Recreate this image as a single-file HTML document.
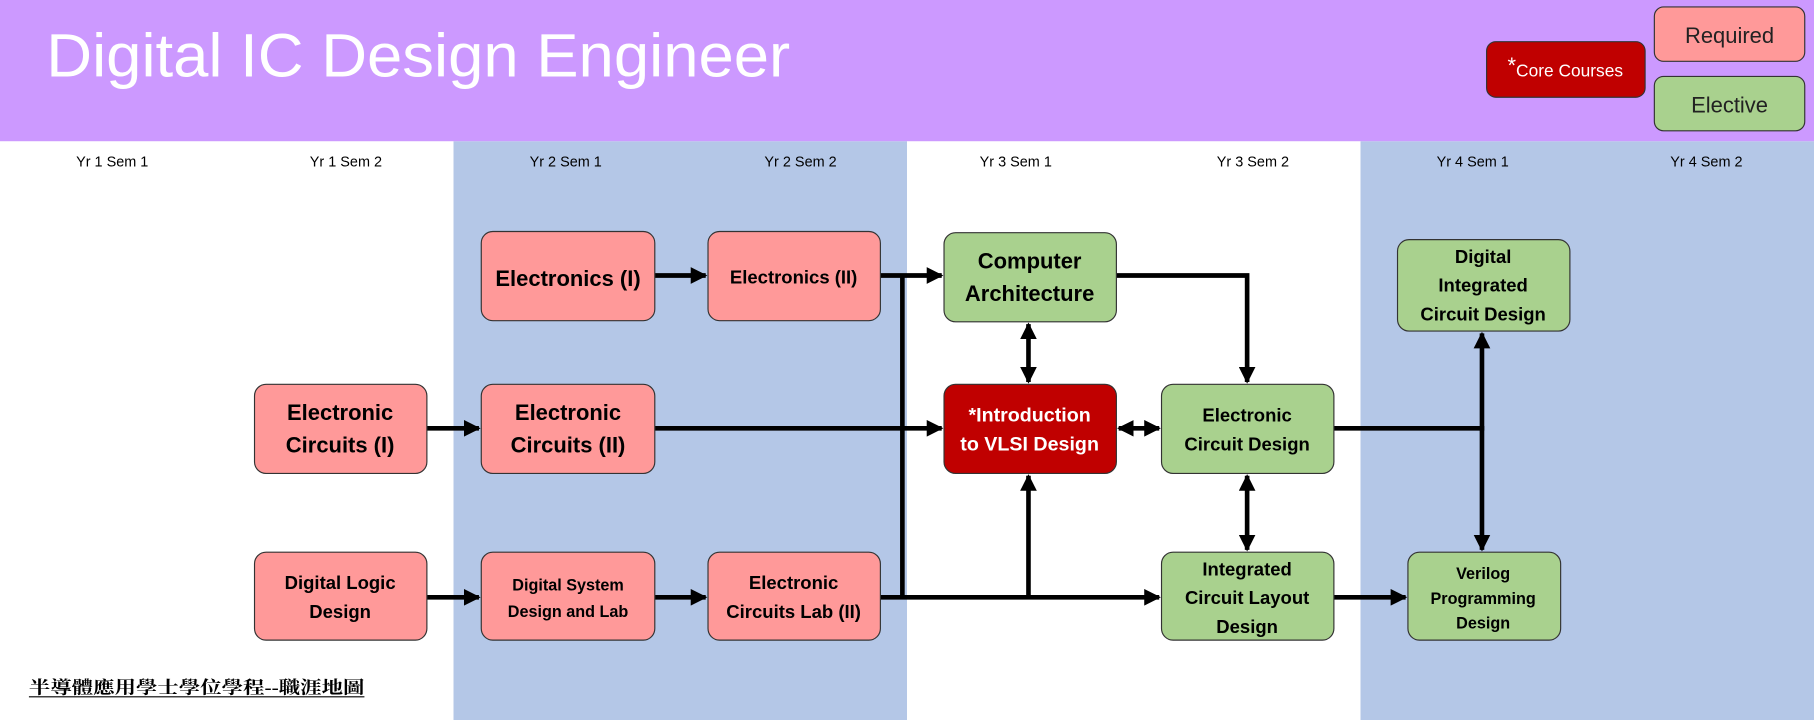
<!DOCTYPE html>
<html><head><meta charset="utf-8"><style>html,body{margin:0;padding:0;background:#fff}svg{display:block}</style></head>
<body>
<svg width="1814" height="720" viewBox="0 0 1568 622" preserveAspectRatio="none" xmlns="http://www.w3.org/2000/svg" font-family="Liberation Sans, sans-serif">
<defs>
<marker id="a" viewBox="0 0 10 10" refX="9" refY="5" markerWidth="3.6" markerHeight="3.6" orient="auto-start-reverse" markerUnits="strokeWidth"><path d="M0,0 L10,5 L0,10 z" fill="#000"/></marker>
</defs>
<rect x="0" y="0" width="1568" height="622" fill="#fff"/>
<rect x="392" y="122" width="392" height="500" fill="#b4c7e7"/>
<rect x="1176" y="122" width="392" height="500" fill="#b4c7e7"/>
<rect x="0" y="0" width="1568" height="122" fill="#cc99ff"/>
<text x="40" y="66" font-size="53" fill="#fff" textLength="643" lengthAdjust="spacingAndGlyphs">Digital IC Design Engineer</text>
<g stroke="#333" stroke-width="1">
<rect x="1430" y="6" width="130" height="47" rx="8" fill="#ff9999"/>
<rect x="1430" y="66" width="130" height="47" rx="8" fill="#a9d18e"/>
<rect x="1285" y="36" width="137" height="48" rx="8" fill="#c00000"/>
</g>
<text x="1495" y="37" font-size="19" text-anchor="middle" fill="#222">Required</text>
<text x="1495" y="97" font-size="19" text-anchor="middle" fill="#222">Elective</text>
<text x="1353" y="66" font-size="15" text-anchor="middle" fill="#fff"><tspan font-size="19" dy="-3">*</tspan><tspan dy="3">Core Courses</tspan></text>
<g font-size="12.5" text-anchor="middle" fill="#000">
<text x="97" y="144">Yr 1 Sem 1</text><text x="299" y="144">Yr 1 Sem 2</text>
<text x="489" y="144">Yr 2 Sem 1</text><text x="692" y="144">Yr 2 Sem 2</text>
<text x="878" y="144">Yr 3 Sem 1</text><text x="1083" y="144">Yr 3 Sem 2</text>
<text x="1273" y="144">Yr 4 Sem 1</text><text x="1475" y="144">Yr 4 Sem 2</text>
</g>
<g stroke="#000" stroke-width="4" fill="none">
<line x1="566" y1="238" x2="610" y2="238" marker-end="url(#a)"/>
<line x1="761" y1="238" x2="814" y2="238" marker-end="url(#a)"/>
<line x1="780" y1="238" x2="780" y2="516"/>
<line x1="369" y1="370" x2="414" y2="370" marker-end="url(#a)"/>
<line x1="566" y1="370" x2="814" y2="370" marker-end="url(#a)"/>
<line x1="369" y1="516" x2="414" y2="516" marker-end="url(#a)"/>
<line x1="566" y1="516" x2="610" y2="516" marker-end="url(#a)"/>
<line x1="761" y1="516" x2="1002" y2="516" marker-end="url(#a)"/>
<line x1="889" y1="516" x2="889" y2="411" marker-end="url(#a)"/>
<line x1="889" y1="280" x2="889" y2="330" marker-start="url(#a)" marker-end="url(#a)"/>
<polyline points="965,238 1078,238 1078,330" marker-end="url(#a)"/>
<line x1="967" y1="370" x2="1002" y2="370" marker-start="url(#a)" marker-end="url(#a)"/>
<line x1="1078" y1="411" x2="1078" y2="475" marker-start="url(#a)" marker-end="url(#a)"/>
<line x1="1153" y1="370" x2="1281" y2="370"/>
<line x1="1281" y1="372" x2="1281" y2="288" marker-end="url(#a)"/>
<line x1="1281" y1="368" x2="1281" y2="475" marker-end="url(#a)"/>
<line x1="1153" y1="516" x2="1215" y2="516" marker-end="url(#a)"/>
</g>
<g stroke="#333" stroke-width="1">
<rect x="416" y="200" width="150" height="77" rx="10" fill="#ff9999"/>
<rect x="612" y="200" width="149" height="77" rx="10" fill="#ff9999"/>
<rect x="816" y="201" width="149" height="77" rx="10" fill="#a9d18e"/>
<rect x="1208" y="207" width="149" height="79" rx="10" fill="#a9d18e"/>
<rect x="220" y="332" width="149" height="77" rx="10" fill="#ff9999"/>
<rect x="416" y="332" width="150" height="77" rx="10" fill="#ff9999"/>
<rect x="816" y="332" width="149" height="77" rx="10" fill="#c00000"/>
<rect x="1004" y="332" width="149" height="77" rx="10" fill="#a9d18e"/>
<rect x="220" y="477" width="149" height="76" rx="10" fill="#ff9999"/>
<rect x="416" y="477" width="150" height="76" rx="10" fill="#ff9999"/>
<rect x="612" y="477" width="149" height="76" rx="10" fill="#ff9999"/>
<rect x="1004" y="477" width="149" height="76" rx="10" fill="#a9d18e"/>
<rect x="1217" y="477" width="132" height="76" rx="10" fill="#a9d18e"/>
</g>
<g font-weight="bold" text-anchor="middle" fill="#000">
<text x="491" y="247" font-size="19">Electronics (I)</text>
<text x="686" y="245" font-size="16">Electronics (II)</text>
<text x="890" y="232" font-size="19">Computer</text><text x="890" y="260" font-size="19">Architecture</text>
<text x="1282" y="227" font-size="16">Digital</text><text x="1282" y="252" font-size="16">Integrated</text><text x="1282" y="277" font-size="16">Circuit Design</text>
<text x="294" y="363" font-size="19">Electronic</text><text x="294" y="391" font-size="19">Circuits (I)</text>
<text x="491" y="363" font-size="19">Electronic</text><text x="491" y="391" font-size="19">Circuits (II)</text>
<text x="890" y="364" font-size="17" fill="#fff">*Introduction</text><text x="890" y="389" font-size="17" fill="#fff">to VLSI Design</text>
<text x="1078" y="364" font-size="16">Electronic</text><text x="1078" y="389" font-size="16">Circuit Design</text>
<text x="294" y="509" font-size="16">Digital Logic</text><text x="294" y="534" font-size="16">Design</text>
<text x="491" y="510" font-size="14">Digital System</text><text x="491" y="533" font-size="14">Design and Lab</text>
<text x="686" y="509" font-size="16">Electronic</text><text x="686" y="534" font-size="16">Circuits Lab (II)</text>
<text x="1078" y="497" font-size="16">Integrated</text><text x="1078" y="522" font-size="16">Circuit Layout</text><text x="1078" y="547" font-size="16">Design</text>
<text x="1282" y="500" font-size="14">Verilog</text><text x="1282" y="522" font-size="14">Programming</text><text x="1282" y="543" font-size="14">Design</text>
</g>
<text x="25" y="599" font-size="15" font-weight="bold" font-family="Liberation Serif, Noto Serif CJK SC, serif" textLength="290" lengthAdjust="spacingAndGlyphs">半導體應用學士學位學程--職涯地圖</text>
<line x1="25" y1="602" x2="315" y2="602" stroke="#000" stroke-width="1"/>
</svg>
</body></html>
